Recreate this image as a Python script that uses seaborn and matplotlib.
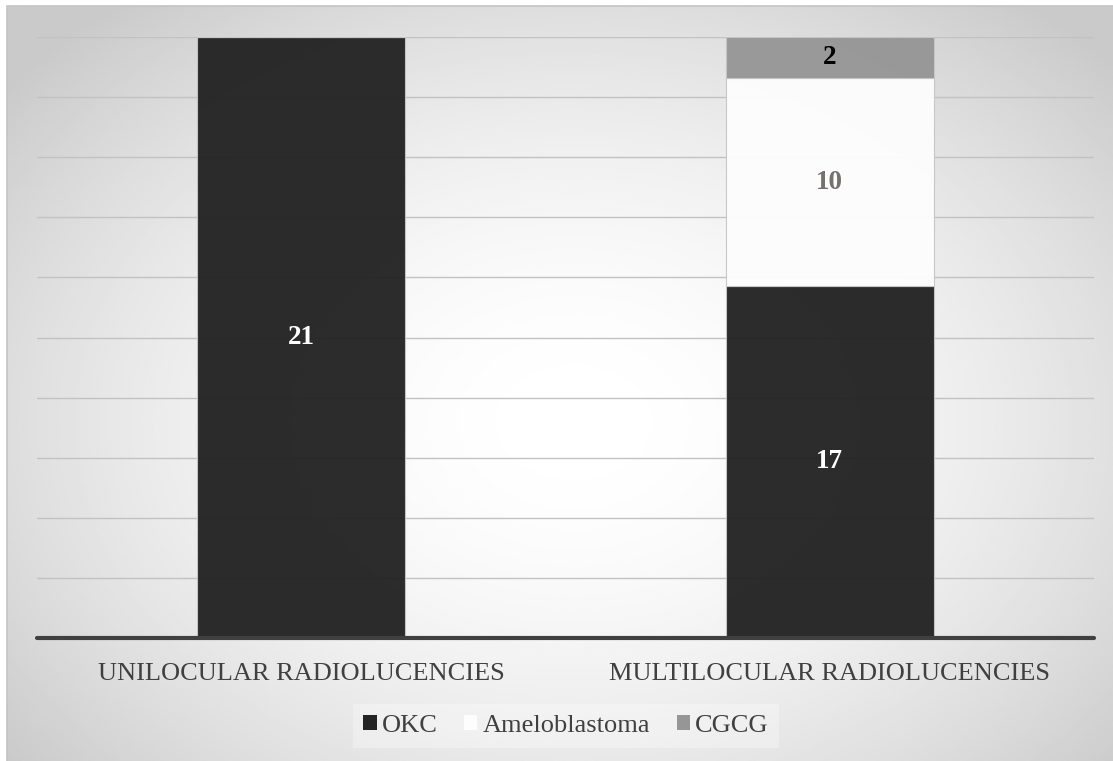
import numpy as np
import pandas as pd
import matplotlib.pyplot as plt
import seaborn as sns
from matplotlib.patches import Patch, Rectangle

# chart data
categories = ['UNILOCULAR RADIOLUCENCIES', 'MULTILOCULAR RADIOLUCENCIES']
okc = [21, 17]
ameloblastoma = [0, 10]
cgcg = [0, 2]
series_names = ['OKC', 'Ameloblastoma', 'CGCG']
series_colors = ['#232323', '#fdfdfd', '#969696']
label_colors = ['white', '#767171', 'black']

df = pd.DataFrame({'category': categories, 'OKC': okc,
                   'Ameloblastoma': ameloblastoma, 'CGCG': cgcg})
# 100% stacked: share of each lesion type within the category
pct = df[series_names].div(df[series_names].sum(axis=1), axis=0) * 100

sns.set_style('white')
plt.rcParams['font.family'] = ['Liberation Serif', 'DejaVu Serif']

W, H = 1113, 761
fig = plt.figure(figsize=(W / 100, H / 100), dpi=100)

# radial grey gradient background; frame runs off the right/bottom edge
fx0, fy0, fx1, fy1 = 7, 6, 1113, 761
bg = fig.add_axes([fx0 / W, 1 - fy1 / H, (fx1 - fx0) / W, (fy1 - fy0) / H])
yy, xx = np.mgrid[0:300, 0:440]
r = np.sqrt(((xx - 225) / 290) ** 2 + ((yy - 165) / 215) ** 2)
grad = 1 - 0.21 * np.clip(r, 0, 1) ** 1.8
bg.imshow(grad, cmap='gray', vmin=0, vmax=1, aspect='auto', interpolation='bilinear')
bg.set_axis_off()
fig.patches.append(Rectangle((fx0 / W, -0.01), 1.0, 1 - fy0 / H + 0.01,
                             transform=fig.transFigure, fill=False,
                             edgecolor='#c4c4c4', linewidth=1.2))

ax = fig.add_axes([37 / W, 1 - 638 / H, 1057 / W, 601 / H])
ax.set_facecolor('none')

bottom = np.zeros(len(df))
for name, col, lcol in zip(series_names, series_colors, label_colors):
    sns.barplot(x=df['category'], y=pct[name], bottom=bottom, color=col, saturation=1,
                width=0.394, edgecolor='#c6c6c6', linewidth=0.8, alpha=0.96, ax=ax)
    for i, (v, p) in enumerate(zip(df[name], pct[name])):
        if v > 0:
            ax.text(i, bottom[i] + p / 2, str(v), ha='center', va='center',
                    color=lcol, fontsize=19.5, fontweight='bold')
    bottom += pct[name].values

ax.set_xlim(-0.5, 1.5)
ax.set_ylim(0, 100)
ax.set_yticks(np.arange(0, 101, 10))
ax.set_yticklabels([])
ax.yaxis.grid(True, color='#c2c2c2', linewidth=1)
ax.set_axisbelow(True)
ax.tick_params(axis='both', length=0)
ax.tick_params(axis='x', pad=18, labelsize=19, labelcolor='#404040')
ax.set_xlabel('')
ax.set_ylabel('')
sns.despine(ax=ax, left=True, bottom=True)
ax.axhline(0, color='#404040', linewidth=3, clip_on=False)

handles = [Patch(facecolor=c, edgecolor='none') for c in series_colors]
leg = fig.legend(handles, series_names, loc='center', bbox_to_anchor=(566 / W, 1 - 726 / H),
                 ncol=3, fontsize=19, frameon=True, handlelength=0.5, handleheight=0.5,
                 handletextpad=0.2, columnspacing=1.0, labelcolor='#404040',
                 borderpad=0.4, facecolor='white', framealpha=0.3, edgecolor='none',
                 fancybox=False)

fig.savefig('out.png', dpi=100)
